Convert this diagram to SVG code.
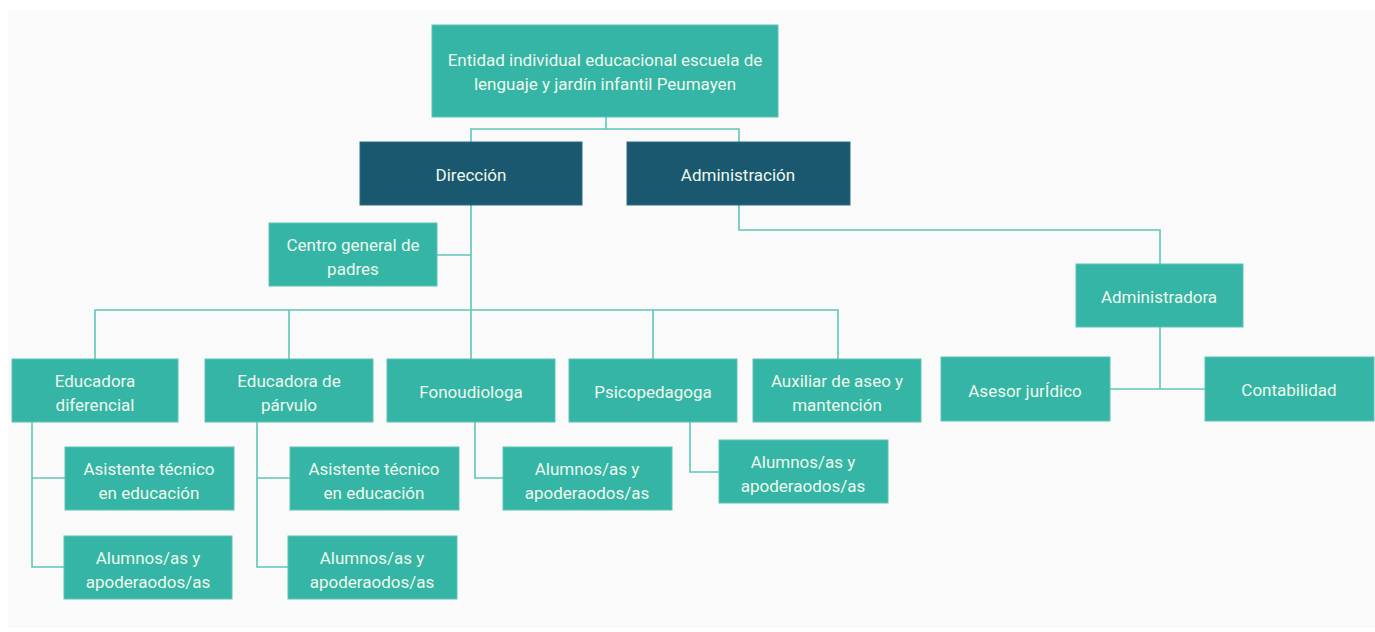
<svg xmlns="http://www.w3.org/2000/svg" width="1375" height="632" viewBox="0 0 1375 632">
<style>
.n{fill:#34b5a5;stroke:#5cc4b6;stroke-width:1}
.d{fill:#1a5870;stroke:#2a6a82;stroke-width:1}
.t{font-family:Roboto,"Liberation Sans",sans-serif;font-size:17px;fill:#eef8ec;text-anchor:middle}
.c{fill:none;stroke:#5ec6b8;stroke-width:1.6}
</style>
<rect x="0" y="0" width="1375" height="632" fill="#ffffff"/>
<rect x="8" y="10" width="1367" height="618" fill="#fafafa"/>
<g id="connectors" class="c">
<polyline points="606,117 606,129 471,129 471,142"/>
<polyline points="606,129 739,129 739,142"/>
<polyline points="471,205 471,359"/>
<polyline points="437,255 471,255"/>
<polyline points="95,359 95,310 838,310 838,359"/>
<polyline points="289,310 289,359"/>
<polyline points="653,310 653,359"/>
<polyline points="32,422 32,567 64,567"/>
<polyline points="32,478 65,478"/>
<polyline points="257,422 257,567 288,567"/>
<polyline points="257,478 290,478"/>
<polyline points="475,422 475,478 503,478"/>
<polyline points="690,422 690,472 719,472"/>
<polyline points="739,205 739,230 1160,230 1160,264"/>
<polyline points="1160,327 1160,389"/>
<polyline points="1110,389 1205,389"/>
</g>
<g id="root"><rect class="n" x="432" y="25" width="346" height="92"/><text class="t" x="605" y="66">Entidad individual educacional escuela de</text><text class="t" x="605" y="90">lenguaje y jardín infantil Peumayen</text></g>
<g id="direccion"><rect class="d" x="360" y="142" width="222" height="63"/><text class="t" x="471" y="181">Dirección</text></g>
<g id="administracion"><rect class="d" x="627" y="142" width="223" height="63"/><text class="t" x="738" y="181">Administración</text></g>
<g id="centro-padres"><rect class="n" x="269" y="223" width="168" height="63"/><text class="t" x="353" y="251">Centro general de</text><text class="t" x="353" y="275">padres</text></g>
<g id="educadora-diferencial"><rect class="n" x="12" y="359" width="166" height="63"/><text class="t" x="95" y="387">Educadora</text><text class="t" x="95" y="411">diferencial</text></g>
<g id="educadora-parvulo"><rect class="n" x="205" y="359" width="168" height="63"/><text class="t" x="289" y="387">Educadora de</text><text class="t" x="289" y="411">párvulo</text></g>
<g id="fonoudiologa"><rect class="n" x="387" y="359" width="168" height="63"/><text class="t" x="471" y="398">Fonoudiologa</text></g>
<g id="psicopedagoga"><rect class="n" x="569" y="359" width="168" height="63"/><text class="t" x="653" y="398">Psicopedagoga</text></g>
<g id="auxiliar"><rect class="n" x="753" y="359" width="168" height="63"/><text class="t" x="837" y="387">Auxiliar de aseo y</text><text class="t" x="837" y="411">mantención</text></g>
<g id="asistente-1"><rect class="n" x="65" y="447" width="169" height="63"/><text class="t" x="149" y="475">Asistente técnico</text><text class="t" x="149" y="499">en educación</text></g>
<g id="alumnos-1"><rect class="n" x="64" y="536" width="168" height="63"/><text class="t" x="148" y="564">Alumnos/as y</text><text class="t" x="148" y="588">apoderaodos/as</text></g>
<g id="asistente-2"><rect class="n" x="290" y="447" width="169" height="63"/><text class="t" x="374" y="475">Asistente técnico</text><text class="t" x="374" y="499">en educación</text></g>
<g id="alumnos-2"><rect class="n" x="288" y="536" width="169" height="63"/><text class="t" x="372" y="564">Alumnos/as y</text><text class="t" x="372" y="588">apoderaodos/as</text></g>
<g id="alumnos-3"><rect class="n" x="503" y="447" width="169" height="63"/><text class="t" x="587" y="475">Alumnos/as y</text><text class="t" x="587" y="499">apoderaodos/as</text></g>
<g id="alumnos-4"><rect class="n" x="719" y="440" width="169" height="63"/><text class="t" x="803" y="468">Alumnos/as y</text><text class="t" x="803" y="492">apoderaodos/as</text></g>
<g id="administradora"><rect class="n" x="1076" y="264" width="167" height="63"/><text class="t" x="1159" y="303">Administradora</text></g>
<g id="asesor-juridico"><rect class="n" x="941" y="357" width="169" height="64"/><text class="t" x="1025" y="397">Asesor jurÍdico</text></g>
<g id="contabilidad"><rect class="n" x="1205" y="357" width="169" height="64"/><text class="t" x="1289" y="396">Contabilidad</text></g>
</svg>
